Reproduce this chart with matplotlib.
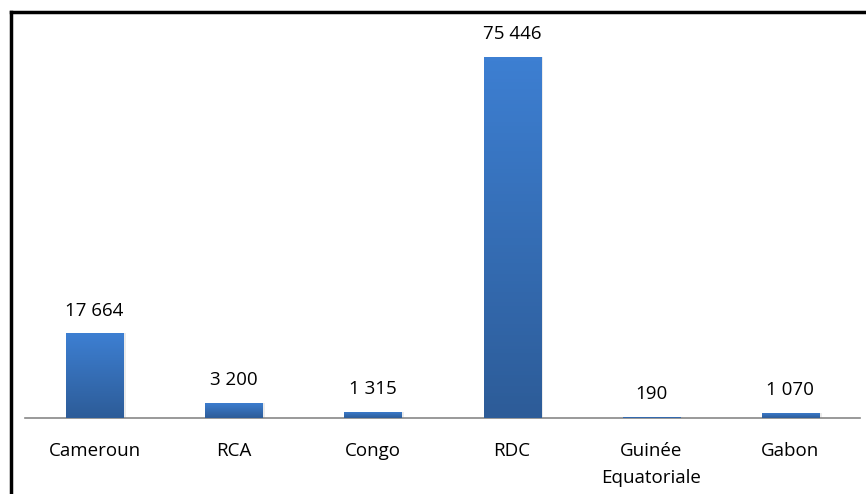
import matplotlib.pyplot as plt
import numpy as np
from matplotlib.colors import LinearSegmentedColormap
from matplotlib.lines import Line2D

# data
pays = ["Cameroun", "RCA", "Congo", "RDC", "Guinée\nEquatoriale", "Gabon"]
valeurs = [17664, 3200, 1315, 75446, 190, 1070]
etiquettes = ["17 664", "3 200", "1 315", "75 446", "190", "1 070"]

plt.rcParams['font.family'] = ['Open Sans', 'DejaVu Sans']

fig = plt.figure(figsize=(8.66, 4.94), dpi=100)
ax = fig.add_axes([25/866, 76/494, 835/866, 398/494])

grad = LinearSegmentedColormap.from_list("bleu", ["#2d5c98", "#3d7fd2"])
largeur = 0.41
x = np.arange(len(pays))
bars = ax.bar(x, valeurs, width=largeur, color="#3a78c8", zorder=2)
for b in bars:
    x0, y0 = b.get_x(), b.get_y()
    w, h = b.get_width(), b.get_height()
    # soft shadow on the right
    ax.bar(x0 + w/2 + 0.02, h, width=w, bottom=y0, color="#000000", alpha=0.08, zorder=1)
    im = ax.imshow(np.linspace(0, 1, 100).reshape(-1, 1), cmap=grad, aspect='auto',
                   extent=[x0, x0 + w, y0, y0 + h], origin='lower', zorder=3)
    im.set_clip_path(b)

for xi, v, t in zip(x, valeurs, etiquettes):
    ax.annotate(t, (xi, v), xytext=(0, 10), textcoords='offset points',
                ha='center', va='bottom', fontsize=13.5, color="#000000")

ax.set_xlim(-0.5, len(pays) - 0.5)
ax.set_ylim(0, 75446 * 398 / 361)
ax.set_xticks(x)
ax.set_xticklabels(pays, fontsize=13.5, linespacing=1.65, va='top')
ax.tick_params(axis='x', length=0, pad=17)
ax.set_yticks([])
for s in ['top', 'right', 'left']:
    ax.spines[s].set_visible(False)
ax.spines['bottom'].set_color("#888888")
ax.spines['bottom'].set_linewidth(1.2)

# outer frame (only top and left visible in the crop)
fig.add_artist(Line2D([11/866, 11/866], [0, 1 - 12/494], color='black', lw=2.5,
                      transform=fig.transFigure))
fig.add_artist(Line2D([11/866, 1], [1 - 12/494, 1 - 12/494], color='black', lw=2.5,
                      transform=fig.transFigure))

fig.savefig("out.png", dpi=100)
